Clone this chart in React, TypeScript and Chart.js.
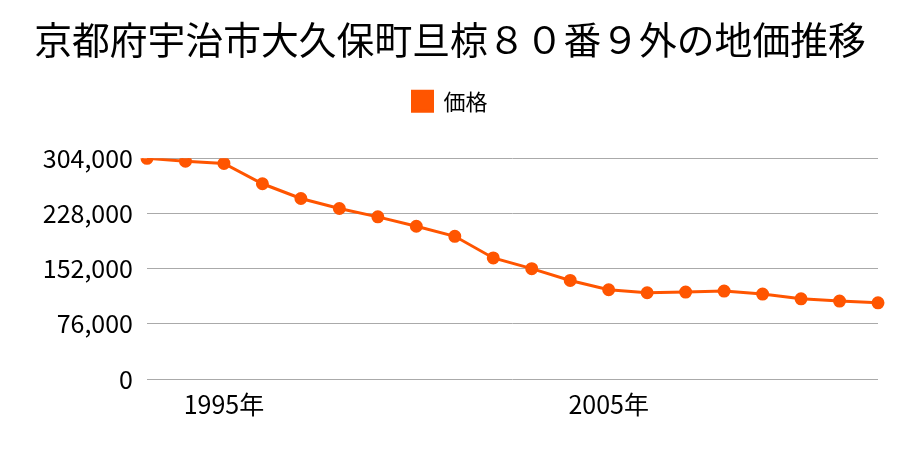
import React, { useEffect, useRef } from "react";
import { Chart, registerables } from "chart.js";

Chart.register(...registerables);

const years: string[] = [
  "1993", "1994", "1995", "1996", "1997", "1998", "1999", "2000", "2001", "2002",
  "2003", "2004", "2005", "2006", "2007", "2008", "2009", "2010", "2011", "2012",
];
const prices: number[] = [
  304000, 300000, 297000, 269000, 248700, 234900, 223400, 210500, 196600, 166800,
  152000, 135800, 123000, 118800, 119800, 121200, 117000, 110500, 107400, 105000,
];
const shownYears: string[] = ["1995", "2005"];
const yTicks: number[] = [0, 76000, 152000, 228000, 304000];

const FONT = "'Noto Sans CJK JP', 'Noto Sans', sans-serif";
const ORANGE = "#ff5500";

const legendSpacer = {
  id: "legendSpacer",
  beforeLayout(chart: any) {
    const lg = chart.legend;
    if (lg && !lg._patched) {
      const f = lg.fit;
      lg.fit = function (this: any) {
        f.call(this);
        this.height += 36;
      };
      lg._patched = true;
    }
  },
};

export default function App() {
  const ref = useRef<HTMLCanvasElement | null>(null);
  useEffect(() => {
    if (!ref.current) return;
    const chart = new Chart(ref.current, {
      type: "line",
      data: {
        labels: years,
        datasets: [
          {
            label: "価格",
            data: prices,
            borderColor: ORANGE,
            backgroundColor: ORANGE,
            borderWidth: 3,
            pointRadius: 5,
            pointHoverRadius: 5,
            pointBackgroundColor: ORANGE,
            pointBorderColor: ORANGE,
            tension: 0,
          },
        ],
      },
      plugins: [legendSpacer],
      options: {
        animation: false,
        responsive: false,
        maintainAspectRatio: false,
        layout: { padding: { top: 17, right: 22, left: 22, bottom: 21 } },
        plugins: {
          title: {
            display: true,
            text: "京都府宇治市大久保町旦椋８０番９外の地価推移",
            color: "#000",
            font: { family: FONT, size: 37.8, weight: "normal" },
            padding: { top: 0, bottom: 18 },
          },
          legend: {
            display: true,
            labels: {
              color: "#000",
              font: { family: FONT, size: 22 },
              boxWidth: 20,
              boxHeight: 20,
              padding: 10,
            },
          },
          tooltip: { enabled: false },
        },
        scales: {
          x: {
            type: "category",
            offset: false,
            grid: { display: false, drawTicks: false },
            border: { display: false },
            ticks: {
              autoSkip: false,
              maxRotation: 0,
              color: "#000",
              padding: 10,
              font: { family: FONT, size: 25 },
              callback: function (value: any, index: number) {
                const y = years[index];
                return shownYears.includes(y) ? y + "年" : "";
              },
            },
          },
          y: {
            min: 0,
            max: 304000,
            afterBuildTicks: (axis: any) => {
              axis.ticks = yTicks.map((v) => ({ value: v }));
            },
            afterFit: (axis: any) => {
              axis.width = 125;
            },
            grid: { color: "#aaaaaa", drawTicks: false, lineWidth: 1 },
            border: { display: false },
            ticks: {
              color: "#000",
              padding: 14,
              font: { family: FONT, size: 25 },
              callback: (v: any) => Number(v).toLocaleString("en-US"),
            },
          },
        },
      },
    });
    return () => chart.destroy();
  }, []);
  return (
    <div style={{ position: "fixed", left: 0, top: 0, width: 900, height: 450, background: "#fff" }}>
      <canvas ref={ref} width={900} height={450} style={{ width: 900, height: 450 }} />
    </div>
  );
}
